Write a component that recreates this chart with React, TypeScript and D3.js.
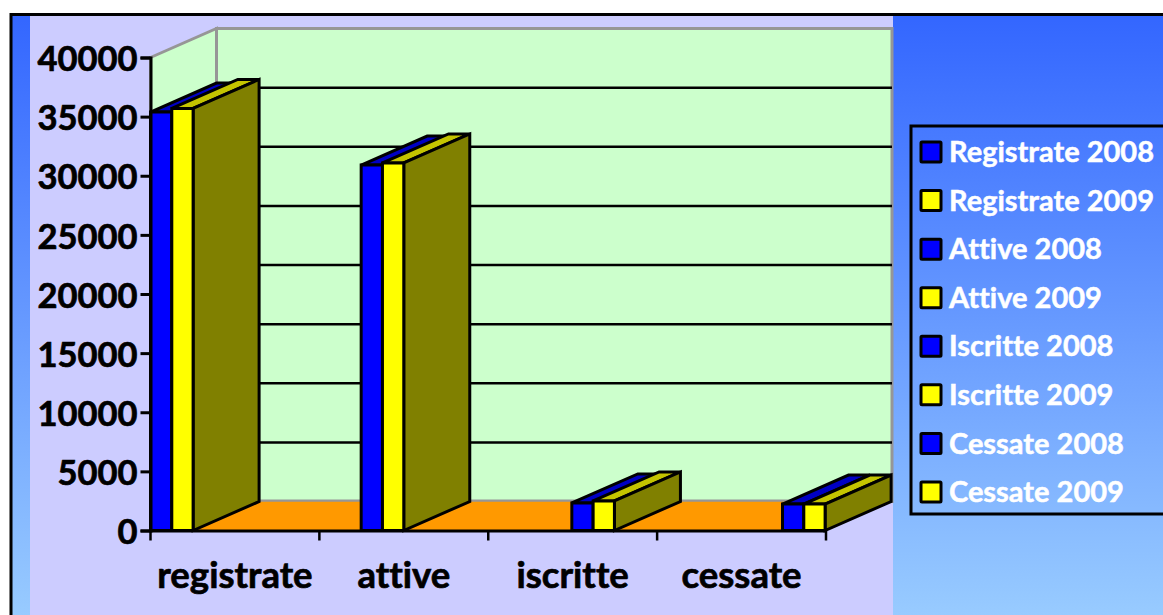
import React, { useRef, useEffect } from "react";
import * as d3 from "d3";

const categories = ["registrate", "attive", "iscritte", "cessate"];
const values2008 = [35390, 30900, 2330, 2240];
const values2009 = [35690, 31080, 2500, 2240];
const yTicks = [0, 5000, 10000, 15000, 20000, 25000, 30000, 35000, 40000];
const legendLabels = [
  "Registrate 2008",
  "Registrate 2009",
  "Attive 2008",
  "Attive 2009",
  "Iscritte 2008",
  "Iscritte 2009",
  "Cessate 2008",
  "Cessate 2009",
];

const width = 1163;
const height = 615;
const fontFamily = "Lato, 'Open Sans', sans-serif";

// front plane of the fake 3D plot
const plot = { left: 150.5, right: 826, top: 57.5, bottom: 530.5 };
const depth = { x: 66, y: -29 };

const App = () => {
  const ref = useRef<SVGSVGElement>(null);

  useEffect(() => {
    const svg = d3.select(ref.current).attr("width", width).attr("height", height);
    svg.selectAll("*").remove();

    const grad = svg.append("defs").append("linearGradient")
      .attr("id", "bg").attr("x1", 0).attr("y1", 0).attr("x2", 0).attr("y2", 1);
    grad.append("stop").attr("offset", "0%").attr("stop-color", "#3366ff");
    grad.append("stop").attr("offset", "100%").attr("stop-color", "#99ccff");

    // Chart background and plot area, bottom and right borders run off the page
    svg.append("rect").attr("x", 11).attr("y", 14.5).attr("width", width).attr("height", height - 8)
      .attr("fill", "url(#bg)").attr("stroke", "#000").attr("stroke-width", 3);
    svg.append("rect").attr("x", 30).attr("y", 16).attr("width", 863).attr("height", height)
      .attr("fill", "#ccccff");

    const yScale = d3.scaleLinear().domain([0, 40000]).range([plot.bottom, plot.top]);
    const xAxisScale = d3.scaleBand().domain(categories).range([plot.left, plot.right]);
    // bars sit on their own spacing, not centred in the axis bands
    const barScale = d3.scalePoint().domain(categories).range([150.5, 782.5]);
    const barWidth = 21.3;

    const line = d3.line();
    const poly = (pts: [number, number][], fill: string, stroke = "#000", sw = 3) =>
      svg.append("path")
        .attr("d", line(pts) + "Z")
        .attr("fill", fill)
        .attr("stroke", stroke)
        .attr("stroke-width", sw)
        .attr("stroke-linejoin", "miter");

    const { left: l, right: r, top: t, bottom: b } = plot;
    const dx = depth.x;
    const dy = depth.y;

    // Walls
    poly([[l + dx, t + dy], [r + dx, t + dy], [r + dx, b + dy], [l + dx, b + dy]], "#ccffcc", "#969696", 3);
    poly([[l, t], [l + dx, t + dy], [l + dx, b + dy], [l, b]], "#ccffcc", "#969696", 3);

    // Gridlines on back wall
    svg.append("g").selectAll("line")
      .data(yTicks.slice(1, -1))
      .enter()
      .append("line")
      .attr("x1", l + dx)
      .attr("x2", r + dx)
      .attr("y1", d => yScale(d) + dy)
      .attr("y2", d => yScale(d) + dy)
      .attr("stroke", "#000")
      .attr("stroke-width", 2.5);

    // Floor
    poly([[l, b], [l + dx, b + dy], [r + dx, b + dy], [r, b]], "#ff9900", "none", 0);
    svg.append("line").attr("x1", l + dx).attr("x2", r + dx).attr("y1", b + dy - 1).attr("y2", b + dy - 1)
      .attr("stroke", "#969696").attr("stroke-width", 2);

    // Bars
    categories.forEach((cat, i) => {
      const x0 = barScale(cat) as number;
      const x1 = x0 + barWidth;
      const x2 = x1 + barWidth;
      const y08 = yScale(values2008[i]);
      const y09 = yScale(values2009[i]);
      poly([[x0, y08], [x0 + dx, y08 + dy], [x1 + dx, y08 + dy], [x1, y08]], "#0000c4");
      poly([[x0, y08], [x1, y08], [x1, b], [x0, b]], "#0000ff");
      poly([[x1, y09], [x1 + dx, y09 + dy], [x2 + dx, y09 + dy], [x2, y09]], "#c4c400");
      poly([[x2, y09], [x2 + dx, y09 + dy], [x2 + dx, b + dy], [x2, b]], "#808000");
      poly([[x1, y09], [x2, y09], [x2, b], [x1, b]], "#ffff00");
    });

    // Axes
    const yAxis = d3.axisLeft(yScale).tickValues(yTicks).tickSize(10).tickPadding(3).tickFormat(d3.format("d") as any);
    const yG = svg.append("g").attr("transform", `translate(${l}, 0)`).call(yAxis);
    const xAxis = d3.axisBottom(xAxisScale).tickSize(0).tickPadding(32);
    const xG = svg.append("g").attr("transform", `translate(0, ${b})`).call(xAxis);

    svg.append("g").selectAll("line")
      .data(d3.range(categories.length + 1))
      .enter()
      .append("line")
      .attr("x1", d => l + d * xAxisScale.step())
      .attr("x2", d => l + d * xAxisScale.step())
      .attr("y1", b)
      .attr("y2", b + 10)
      .attr("stroke", "#000")
      .attr("stroke-width", 2.5);

    [yG, xG].forEach((g, i) => {
      g.selectAll("path").attr("stroke", "#000").attr("stroke-width", 3);
      g.selectAll("line").attr("stroke", "#000").attr("stroke-width", 3);
      g.selectAll("text")
        .attr("fill", "#000")
        .attr("stroke", "#000")
        .attr("stroke-width", 0.7)
        .style("font-family", fontFamily)
        .style("font-weight", 700)
        .style("font-variant-ligatures", "none")
        .style("font-size", i === 0 ? "34.5px" : "36.5px");
    });
    yG.selectAll("text").attr("dy", "0.38em");

    // Legend
    const legendY = d3.scalePoint().domain(legendLabels).range([152, 492]);
    svg.append("rect").attr("x", 911).attr("y", 126).attr("width", 300).attr("height", 388)
      .attr("fill", "none").attr("stroke", "#000").attr("stroke-width", 3);
    legendLabels.forEach((label, i) => {
      const y = legendY(label) as number;
      svg.append("rect").attr("x", 921).attr("y", y - 10).attr("width", 20).attr("height", 20)
        .attr("fill", i % 2 === 0 ? "#0000ff" : "#ffff00")
        .attr("stroke", "#000").attr("stroke-width", 3).attr("rx", 1);
      svg.append("text").attr("x", 949).attr("y", y).attr("dy", "0.35em")
        .attr("fill", "#fff")
        .attr("stroke", "#fff")
        .attr("stroke-width", 0.5)
        .style("font-family", fontFamily)
        .style("font-weight", 700)
        .style("font-variant-ligatures", "none")
        .style("font-size", "29px")
        .text(label);
    });
  }, []);

  return (
    <div style={{ position: "absolute", left: 0, top: 0 }}>
      <svg ref={ref} style={{ display: "block" }}></svg>
    </div>
  );
};

export default App;
